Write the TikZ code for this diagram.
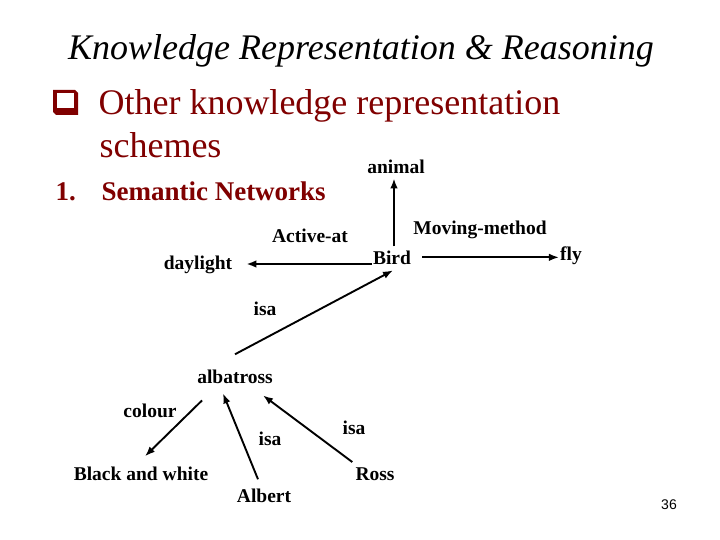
\documentclass[tikz,border=0pt]{standalone}
\usepackage{fontspec}
\setmainfont{Liberation Serif}
\newfontfamily\pagenumfont{Liberation Sans}
\usetikzlibrary{arrows.meta}
\definecolor{slideRed}{RGB}{128,0,0}
\tikzset{
  titletext/.style={anchor=base, font=\fontsize{36}{42}\selectfont\itshape},
  headtext/.style={anchor=base west, text=slideRed, font=\fontsize{36}{42}\selectfont},
  subhead/.style={anchor=base west, text=slideRed, font=\fontsize{27}{32}\selectfont\bfseries},
  concept/.style={anchor=base, inner sep=1pt, font=\fontsize{19.5}{22}\selectfont\bfseries},
  relation/.style={concept},
  link/.style={-{Latex[length=10pt,width=7.5pt]}, line width=1.9pt}
}
\begin{document}
\begin{tikzpicture}[x=1pt, y=-1pt]
        \useasboundingbox (0,0) rectangle (720,540);
        % slide heading
        \node[titletext] (title) at (361,60) {Knowledge Representation \& Reasoning};
        \fill[slideRed] (53,90) -- (75,90) -- (78,93) -- (78,115) -- (56,115) -- (53,112) -- cycle;
        \fill[white] (57,93) rectangle (74,108);
        \node[headtext] (other) at (95,115) {Other knowledge representation};
        \node[headtext] (schemes) at (96,158) {schemes};
        \node[subhead] (num) at (52,201) {1.};
        \node[subhead] (semnet) at (98,201) {Semantic Networks};
        % concepts
        \node[concept] (animal) at (396,174) {animal};
        \node[concept] (bird) at (392,264) {Bird};
        \node[concept] (daylight) at (198,269) {daylight};
        \node[concept] (fly) at (571,260) {fly};
        \node[concept] (albatross) at (235,383) {albatross};
        \node[concept] (blackwhite) at (141,480) {Black and white};
        \node[concept] (albert) at (264,502) {Albert};
        \node[concept] (ross) at (375,480) {Ross};
        % relation names
        \node[relation] (activeat) at (310,242) {Active-at};
        \node[relation] (movingmethod) at (480,235) {Moving-method};
        \node[relation] (isabird) at (265,315) {isa};
        \node[relation] (colour) at (150,417) {colour};
        \node[relation] (isaalbert) at (270,445) {isa};
        \node[relation] (isaross) at (354,434) {isa};
        \node[anchor=base, font=\pagenumfont\fontsize{14}{16}\selectfont] (pagenum) at (669,509) {36};
        % links
        \draw[link] ([shift={(2,-3)}]bird.north) -- ([shift={(-2,3)}]animal.south);
        \draw[link, shorten >=13pt] (bird.base west) -- (bird.base west -| daylight.east);
        \draw[link, shorten <=10pt] (bird.east) -- (bird.east -| fly.west);
        \draw[link] ([shift={(0,-14)}]albatross.north) -- ([shift={(1,5)}]bird.south);
        \draw[link] ([shift={(6,16)}]albatross.south west) -- ([shift={(4,-9)}]blackwhite.north);
        \draw[link] ([shift={(-6,-8)}]albert.north) -- ([shift={(-12,9)}]albatross.south);
        \draw[link] ([shift={(-2,-4)}]ross.north west) -- ([shift={(28,11)}]albatross.south);
      \end{tikzpicture}
\end{document}
